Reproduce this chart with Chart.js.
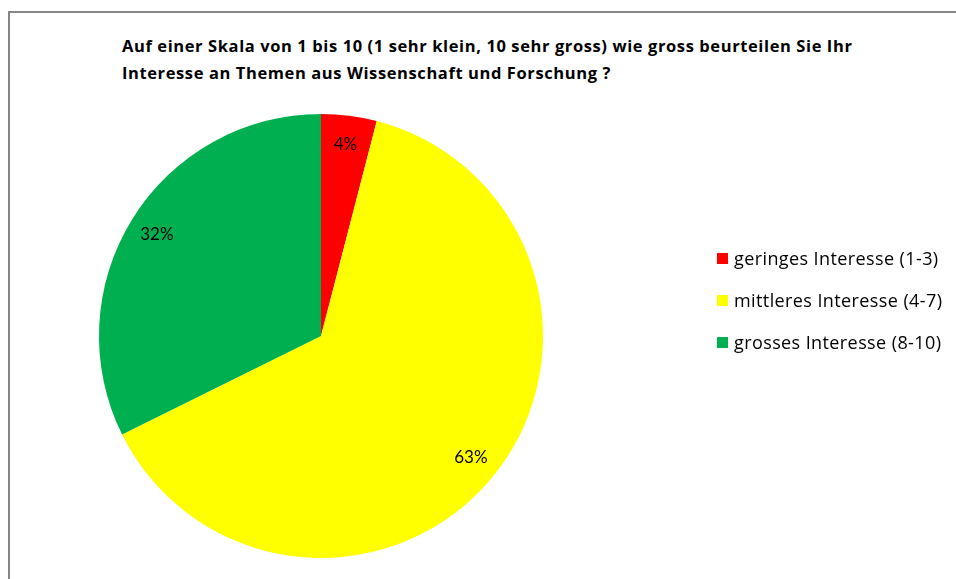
<!DOCTYPE html>
<html lang="de">
<head>
<meta charset="utf-8">
<title>Interesse an Wissenschaft und Forschung</title>
<script src="https://cdn.jsdelivr.net/npm/chart.js@4.4.1/dist/chart.umd.min.js"></script>
<style>
  html, body { margin: 0; padding: 0; background: #fff; overflow: hidden; }
  body { width: 956px; height: 579px; position: relative; font-family: "Open Sans", Lato, sans-serif; }
  #frame {
    position: absolute; left: 8px; top: 11px; width: 1000px; height: 1000px;
    border: 2px solid #868686; box-sizing: border-box;
  }
  #title {
    position: absolute; left: 122px; top: 32px;
    font-size: 16.5px; font-weight: bold; line-height: 27px; color: #000;
    letter-spacing: 0.6px; white-space: nowrap;
  }
  #myChart { position: absolute; left: 0; top: 0; }
  #legend {
    position: absolute; left: 717px; top: 237px; margin: 0; padding: 0; list-style: none;
    font-size: 18px; letter-spacing: 0.4px; color: #000; white-space: nowrap;
  }
  #legend li { display: flex; align-items: center; height: 42px; line-height: 20px; }
  #legend li span.box { display: inline-block; width: 11px; height: 11px; margin-right: 6px; }
</style>
</head>
<body>
<div id="frame"></div>
<div id="title">Auf einer Skala von 1 bis 10 (1 sehr klein, 10 sehr gross) wie gross beurteilen Sie Ihr<br>Interesse an Themen aus Wissenschaft und Forschung ?</div>
<canvas id="myChart" width="956" height="579"></canvas>
<ul id="legend"></ul>
<script>
let labels1 = ['geringes Interesse (1-3)', 'mittleres Interesse (4-7)', 'grosses Interesse (8-10)'];
let data1 = [4, 63, 32];
let colors1 = ['#FF0000', '#FFFF00', '#00B050'];

// percent text inside each slice
const sliceLabels = {
    id: 'sliceLabels',
    afterDatasetsDraw(chart) {
        const ctx = chart.ctx;
        const meta = chart.getDatasetMeta(0);
        ctx.save();
        ctx.font = '17px Lato, "Open Sans", sans-serif';
        ctx.fillStyle = '#000';
        ctx.textAlign = 'center';
        ctx.textBaseline = 'middle';
        meta.data.forEach((arc, i) => {
            const a = (arc.startAngle + arc.endAngle) / 2;
            const r = arc.outerRadius * 0.87;
            ctx.fillText(data1[i] + '%', arc.x + Math.cos(a) * r, arc.y + Math.sin(a) * r);
        });
        ctx.restore();
    }
};

let piechart = document.getElementById('myChart').getContext('2d');

let chart = new Chart(piechart, {

    type: 'pie',

    data: {
        labels: labels1,
        datasets: [{
            data: data1,
            backgroundColor: colors1,
            borderWidth: 0
        }]
    },

    options: {
        responsive: false,
        animation: false,
        layout: {
            padding: { left: 99, right: 413, top: 114, bottom: 21 }
        },
        plugins: {
            legend: { display: false },
            tooltip: { enabled: false }
        }
    },

    plugins: [sliceLabels]
});

// legend built from the chart's own items
let legendList = document.getElementById('legend');
chart.options.plugins.legend.labels.generateLabels(chart).forEach(item => {
    let li = document.createElement('li');
    let box = document.createElement('span');
    box.className = 'box';
    box.style.background = item.fillStyle;
    li.appendChild(box);
    li.appendChild(document.createTextNode(item.text));
    legendList.appendChild(li);
});
</script>
</body>
</html>
